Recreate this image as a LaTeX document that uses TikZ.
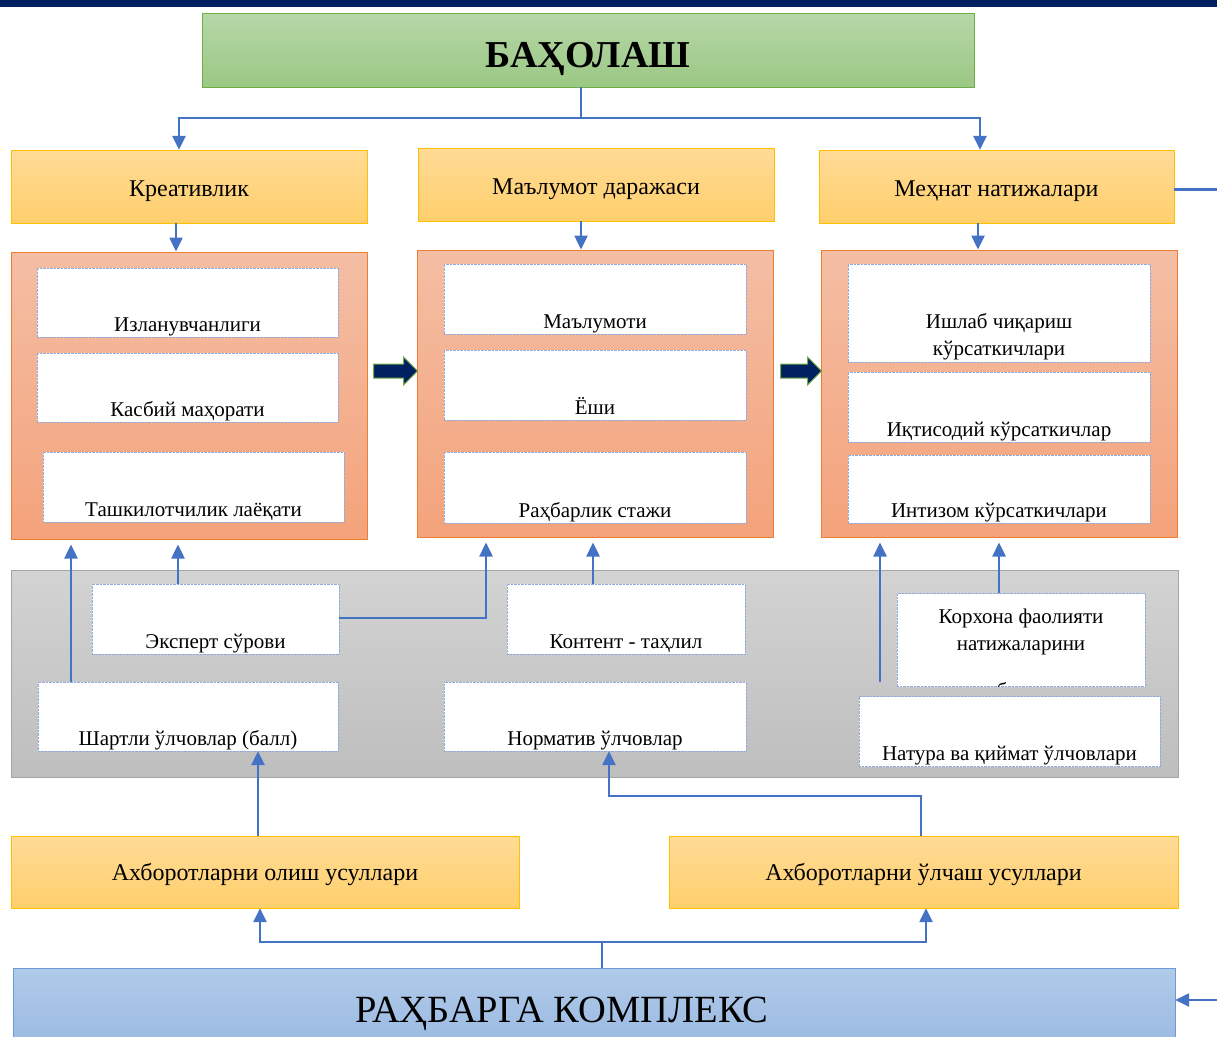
\documentclass[tikz,border=0pt]{standalone}
\usepackage{fontspec}
\setmainfont{Liberation Serif}
\usetikzlibrary{positioning, calc, arrows.meta, shapes.arrows}

\definecolor{barnavy}{HTML}{002060}
\definecolor{titletop}{HTML}{B6D7A8}
\definecolor{titlebot}{HTML}{9BC884}
\definecolor{titleline}{HTML}{70AD47}
\definecolor{crittop}{HTML}{FFDB96}
\definecolor{critbot}{HTML}{FFCF6C}
\definecolor{critline}{HTML}{FFC000}
\definecolor{paneltop}{HTML}{F4BEA4}
\definecolor{panelbot}{HTML}{F4A37B}
\definecolor{panelline}{HTML}{ED7D31}
\definecolor{graytop}{HTML}{D3D3D3}
\definecolor{graybot}{HTML}{BEBEBE}
\definecolor{grayline}{HTML}{A5A5A5}
\definecolor{cellline}{HTML}{8FAADC}
\definecolor{basetop}{HTML}{B0CAE9}
\definecolor{basebot}{HTML}{99B8E1}
\definecolor{baseline}{HTML}{6A9BD6}
\definecolor{linkblue}{HTML}{4472C4}
\definecolor{arrowline}{HTML}{70AD47}

\begin{document}
\begin{tikzpicture}[x=1pt, y=-1pt,
    head/.style={draw=titleline, top color=titletop, bottom color=titlebot, minimum width=772pt, minimum height=74pt, text height=34pt, text depth=0pt, font=\fontsize{38}{40}\selectfont\bfseries},
    crit/.style={draw=critline, top color=crittop, bottom color=critbot, minimum width=356pt, minimum height=73pt, text height=19pt, text depth=0pt, font=\fontsize{24}{28}\selectfont},
    panel/.style={draw=panelline, line width=1pt, top color=paneltop, bottom color=panelbot, minimum width=356pt, minimum height=287pt},
    cell/.style={draw=cellline, densely dotted, fill=white, inner sep=0pt, text depth=6pt, text height=#1, minimum width=301pt, font=\fontsize{21}{27}\selectfont},
    link/.style={draw=linkblue, line width=2.5pt, -{Triangle[length=14pt, width=13pt]}},
    gap/.style={shorten >=5pt},
    bigarrow/.style={single arrow, draw=arrowline, fill=barnavy, line width=1pt, inner sep=0pt, inner ysep=6.5pt, minimum height=44pt, single arrow head extend=7pt}
  ]
  \useasboundingbox (0,0) rectangle (1217,1036);
  \fill[barnavy] (0,0) rectangle (1217,7);

  % top row
  \node[head] (title) at (588,50) {БАҲОЛАШ};
  \node[crit] (krea) at (189,186.5) {Креативлик};
  \node[crit] (malum) at (596,184.5) {Маълумот даражаси};
  \node[crit, minimum width=355pt] (mehnat) at (996.5,186.5) {Меҳнат натижалари};

  % panels
  \node[panel] (pleft) at (189,395.5) {};
  \node[panel] (pmid) at (595,393.5) {};
  \node[panel] (pright) at (999,393.5) {};

  \node[cell=63pt] (izl) at (187.5,302.5) {Изланувчанлиги};
  \node[cell=63pt] (kasb) at (187.5,387.5) {Касбий маҳорати};
  \node[cell=64pt] (tash) at (193.5,487) {Ташкилотчилик лаёқати};

  \node[cell=64pt, minimum width=302pt] (malumoti) at (595,299) {Маълумоти};
  \node[cell=64pt, minimum width=302pt] (yosh) at (595,385) {Ёши};
  \node[cell=65pt, minimum width=302pt] (rahb) at (595,487.5) {Раҳбарлик стажи};

  \node[cell=91pt, text depth=7pt, minimum width=302pt, align=center] (ishlab) at (999,313) {Ишлаб чиқариш\\кўрсаткичлари};
  \node[cell=64pt, minimum width=302pt] (iqtis) at (999,407) {Иқтисодий кўрсаткичлар};
  \node[cell=62pt, minimum width=302pt] (intiz) at (999,489) {Интизом кўрсаткичлари};

  \node[bigarrow] (arr1) at (392,371) {};
  \node[bigarrow, minimum height=41pt] (arr2) at (797.5,371) {};

  % methods panel
  \node[draw=grayline, line width=1pt, top color=graytop, bottom color=graybot, minimum width=1167pt, minimum height=207pt] (methods) at (594.5,673.5) {};
  \node[cell=64pt, minimum width=247pt] (ekspert) at (215.5,619) {Эксперт сўрови};
  \node[cell=63pt, minimum width=300pt] (shartli) at (188,716.5) {Шартли ўлчовлар (балл)};
  \node[cell=64pt, minimum width=238pt] (kontent) at (626,619) {Контент - таҳлил};
  \node[cell=63pt, minimum width=302pt] (normativ) at (595,716.5) {Норматив ўлчовлар};
  \node[cell=57pt, text depth=36pt, minimum width=248pt, align=center] (korh) at (1021,640) {Корхона фаолияти\\натижаларини};
  \begin{scope}
    \clip (korh.south west) rectangle (korh.north east);
    \node[anchor=base, font=\fontsize{21}{27}\selectfont, inner sep=0pt] (korhcut) at (1002,697) {б};
  \end{scope}
  \node[cell=64pt] (natura) at (1009.5,731.5) {Натура ва қиймат ўлчовлари};

  % bottom row
  \node[crit, minimum width=508pt, minimum height=72pt, text height=17pt] (olish) at (265,872) {Ахборотларни олиш усуллари};
  \node[crit, minimum width=509pt, minimum height=72pt, text height=17pt] (olchash) at (923.5,872) {Ахборотларни ўлчаш усуллари};
  \node[draw=baseline, top color=basetop, bottom color=basebot, minimum width=1162pt, minimum height=84pt, text height=24pt, text depth=0pt, font=\fontsize{38.5}{42}\selectfont] (rahbarga) at (594,1010) {РАҲБАРГА КОМПЛЕКС\hspace*{64pt}};

  % connectors
  \coordinate (natfoot) at ([xshift=-129.5pt, yshift=14pt]natura.north);
  \draw[link] ([xshift=-7pt]title.south) -- ++(0,31) -| ([xshift=-10pt]krea.north);
  \draw[link] ([xshift=-7pt]title.south) -- ++(0,31) -| ([xshift=-16.5pt]mehnat.north);
  \draw[link] ([xshift=-13pt]krea.south) -- ([xshift=-13pt]krea.south |- pleft.north);
  \draw[link] ([xshift=-15pt]malum.south) -- ([xshift=-15pt]malum.south |- pmid.north);
  \draw[link] ([xshift=-18.5pt]mehnat.south) -- ([xshift=-18.5pt]mehnat.south |- pright.north);

  \draw[link, gap] ([xshift=-117pt]shartli.north) -- ([xshift=-117pt]shartli.north |- pleft.south);
  \draw[link, gap] ([xshift=-37.5pt]ekspert.north) -- ([xshift=-37.5pt]ekspert.north |- pleft.south);
  \draw[link, gap] ([yshift=1pt]ekspert.east) -| ([xshift=-109pt]pmid.south);
  \draw[link, gap] ([xshift=-33pt]kontent.north) -- ([xshift=-33pt]kontent.north |- pmid.south);
  \draw[link, gap] (natfoot) -- (natfoot |- pright.south);
  \draw[link, gap] ([xshift=-22pt]korh.north) -- ([xshift=-22pt]korh.north |- pright.south);

  \draw[link] ([xshift=-7pt]olish.north) -- ([xshift=-7pt]olish.north |- shartli.south);
  \draw[link] ([xshift=-2.5pt]olchash.north) -- ++(0,-40) -| ([xshift=14pt]normativ.south);
  \draw[link] ([xshift=8pt]rahbarga.north) -- ++(0,-26) -| ([xshift=-5pt]olish.south);
  \draw[link] ([xshift=8pt]rahbarga.north) -- ++(0,-26) -| ([xshift=2.5pt]olchash.south);
  \draw[link] ([yshift=-3pt]mehnat.east) -- ++(60,0) |- ([yshift=10pt]rahbarga.east);
\end{tikzpicture}
\end{document}
